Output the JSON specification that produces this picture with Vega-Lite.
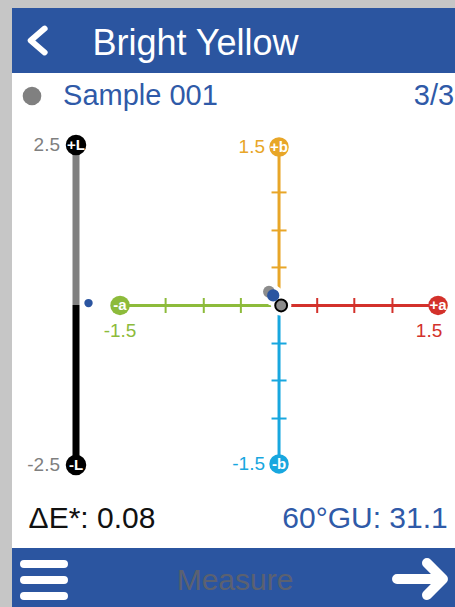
{
  "$schema": "https://vega.github.io/schema/vega-lite/v6.json",
  "background": "#c6c6c6",
  "padding": {"left": 12, "top": 8, "right": 0, "bottom": 0},
  "spacing": 0,
  "resolve": {"scale": {"color": "independent"}},
  "config": {
    "font": "Liberation Sans",
    "view": {"stroke": null},
    "concat": {"spacing": 0},
    "point": {"opacity": 1},
    "text": {"font": "Liberation Sans"}
  },
  "datasets": {
    "lEnds": [
      {"series": "L", "L": 2.5, "sym": "+L", "value": "2.5"},
      {"series": "L", "L": -2.5, "sym": "-L", "value": "-2.5"}
    ],
    "abAxes": [
      {"half": "+a", "a": 0, "b": 0, "a2": 1.5, "b2": 0},
      {"half": "-a", "a": 0, "b": 0, "a2": -1.5, "b2": 0},
      {"half": "+b", "a": 0, "b": 0, "a2": 0, "b2": 1.5},
      {"half": "-b", "a": 0, "b": 0, "a2": 0, "b2": -1.5}
    ],
    "abTicks": [
      {"half": "+a", "a": 0.36, "b": 0}, {"half": "+a", "a": 0.71, "b": 0}, {"half": "+a", "a": 1.07, "b": 0},
      {"half": "-a", "a": -0.36, "b": 0}, {"half": "-a", "a": -0.71, "b": 0}, {"half": "-a", "a": -1.07, "b": 0},
      {"half": "+b", "a": 0, "b": 0.36}, {"half": "+b", "a": 0, "b": 0.71}, {"half": "+b", "a": 0, "b": 1.07},
      {"half": "-b", "a": 0, "b": -0.36}, {"half": "-b", "a": 0, "b": -0.71}, {"half": "-b", "a": 0, "b": -1.07}
    ],
    "abEnds": [
      {"half": "+a", "a": 1.5, "b": 0, "sym": "+a", "value": "1.5"},
      {"half": "-a", "a": -1.5, "b": 0, "sym": "-a", "value": "-1.5"},
      {"half": "+b", "a": 0, "b": 1.5, "sym": "+b", "value": "1.5"},
      {"half": "-b", "a": 0, "b": -1.5, "sym": "-b", "value": "-1.5"}
    ],
    "samples": [
      {"kind": "previous", "a": -0.095, "b": 0.13},
      {"kind": "standard", "a": 0.02, "b": 0},
      {"kind": "current", "a": -0.055, "b": 0.095}
    ]
  },
  "vconcat": [
    {
      "spacing": 0, "bounds": "flush",
      "hconcat": [
        {"width": 52, "height": 65, "view": {"fill": "#2b55a0"},
         "data": {"values": [{"icon": "back"}]},
         "mark": {"type": "point", "shape": "M0.5,-0.9L-0.55,0L0.5,0.9", "filled": false, "stroke": "#ffffff", "strokeWidth": 6, "strokeCap": "round", "strokeJoin": "round", "size": 700, "opacity": 1},
         "encoding": {}},
        {"width": 263, "height": 65, "view": {"fill": "#2b55a0"},
         "data": {"values": [{"name": "Bright Yellow"}]},
         "mark": {"type": "text", "fontSize": 36, "color": "#ffffff", "dy": 3},
         "encoding": {"text": {"field": "name"}}},
        {"width": 128, "height": 65, "view": {"fill": "#2b55a0"},
         "data": {"values": []}, "mark": "point", "encoding": {}}
      ]
    },
    {
      "spacing": 0, "bounds": "flush",
      "hconcat": [
        {"width": 40, "height": 46, "view": {"fill": "#ffffff"},
         "data": {"values": [{"sample": "Sample 001"}]},
         "mark": {"type": "point", "filled": true, "color": "#808080", "size": 346, "opacity": 1},
         "encoding": {}},
        {"width": 177, "height": 46, "view": {"fill": "#ffffff"},
         "data": {"values": [{"sample": "Sample 001"}]},
         "mark": {"type": "text", "fontSize": 29, "color": "#2f5aa8"},
         "encoding": {"text": {"field": "sample"}}},
        {"width": 184, "height": 46, "view": {"fill": "#ffffff"},
         "data": {"values": []}, "mark": "point", "encoding": {}},
        {"width": 42, "height": 46, "view": {"fill": "#ffffff"},
         "data": {"values": [{"page": "3/3"}]},
         "mark": {"type": "text", "fontSize": 29, "color": "#2f5aa8"},
         "encoding": {"text": {"field": "page"}}}
      ]
    },
    {
      "spacing": 0, "bounds": "flush",
      "resolve": {"scale": {"color": "independent"}},
      "hconcat": [
        {"width": 88, "height": 370, "view": {"fill": "#ffffff"},
         "encoding": {
           "x": {"field": "series", "type": "nominal", "scale": {"type": "point", "domain": ["L", "ΔL"], "range": [64, 76.5], "padding": 0}, "axis": null},
           "y": {"field": "L", "type": "quantitative", "scale": {"domain": [-2.875, 2.906], "nice": false, "zero": false}, "axis": null}
         },
         "layer": [
           {"data": {"values": [{"side": "lighter", "series": "L", "L": 0, "L2": 2.5}, {"side": "darker", "series": "L", "L": 0, "L2": -2.5}]},
            "mark": {"type": "rule", "strokeWidth": 7},
            "encoding": {"y2": {"field": "L2"}, "color": {"field": "side", "type": "nominal", "scale": {"domain": ["lighter", "darker"], "range": ["#808080", "#000000"]}, "legend": null}}},
           {"data": {"name": "lEnds"}, "mark": {"type": "point", "filled": true, "color": "#000000", "size": 420, "opacity": 1}},
           {"data": {"name": "lEnds"}, "mark": {"type": "text", "color": "#ffffff", "fontSize": 15, "fontWeight": "bold"}, "encoding": {"text": {"field": "sym"}}},
           {"data": {"name": "lEnds"}, "mark": {"type": "text", "color": "#7f7f7f", "fontSize": 19, "align": "right", "dx": -16}, "encoding": {"text": {"field": "value"}}},
           {"data": {"values": [{"series": "ΔL", "L": 0.03}]}, "mark": {"type": "point", "filled": true, "color": "#2b55a0", "size": 70, "opacity": 1}}
         ]},
        {"width": 355, "height": 370, "view": {"fill": "#ffffff"},
         "encoding": {
           "x": {"field": "a", "type": "quantitative", "scale": {"domain": [-1.689, 1.66], "nice": false, "zero": false}, "axis": null},
           "y": {"field": "b", "type": "quantitative", "scale": {"domain": [-1.737, 1.765], "nice": false, "zero": false}, "axis": null}
         },
         "layer": [
           {"data": {"name": "abAxes"}, "mark": {"type": "rule", "strokeWidth": 3},
            "encoding": {"x2": {"field": "a2"}, "y2": {"field": "b2"},
              "color": {"field": "half", "type": "nominal", "scale": {"domain": ["+a", "-a", "+b", "-b"], "range": ["#d3312b", "#8dbb3b", "#e8a628", "#18a7df"]}, "legend": null}}},
           {"data": {"name": "abTicks"}, "transform": [{"filter": "datum.half === '+a' || datum.half === '-a'"}],
            "mark": {"type": "tick", "orient": "vertical", "size": 15, "thickness": 2, "opacity": 1},
            "encoding": {"color": {"field": "half", "type": "nominal", "scale": {"domain": ["+a", "-a", "+b", "-b"], "range": ["#d3312b", "#8dbb3b", "#e8a628", "#18a7df"]}, "legend": null}}},
           {"data": {"name": "abTicks"}, "transform": [{"filter": "datum.half === '+b' || datum.half === '-b'"}],
            "mark": {"type": "tick", "orient": "horizontal", "size": 15, "thickness": 2, "opacity": 1},
            "encoding": {"color": {"field": "half", "type": "nominal", "scale": {"domain": ["+a", "-a", "+b", "-b"], "range": ["#d3312b", "#8dbb3b", "#e8a628", "#18a7df"]}, "legend": null}}},
           {"data": {"name": "samples"}, "transform": [{"filter": "datum.kind !== 'previous'"}],
            "mark": {"type": "point", "filled": true, "color": "#ffffff", "size": 420, "opacity": 1}},
           {"data": {"name": "abEnds"}, "mark": {"type": "point", "filled": true, "size": 380, "opacity": 1},
            "encoding": {"color": {"field": "half", "type": "nominal", "scale": {"domain": ["+a", "-a", "+b", "-b"], "range": ["#d3312b", "#8dbb3b", "#e8a628", "#18a7df"]}, "legend": null}}},
           {"data": {"name": "abEnds"}, "mark": {"type": "text", "color": "#ffffff", "fontSize": 15, "fontWeight": "bold"},
            "encoding": {"text": {"field": "sym"}}},
           {"data": {"name": "abEnds"}, "transform": [{"filter": "datum.half === '+b' || datum.half === '-b'"}],
            "mark": {"type": "text", "fontSize": 19, "align": "right", "dx": -14},
            "encoding": {"text": {"field": "value"}, "color": {"field": "half", "type": "nominal", "scale": {"domain": ["+a", "-a", "+b", "-b"], "range": ["#d3312b", "#8dbb3b", "#e8a628", "#18a7df"]}, "legend": null}}},
           {"data": {"name": "abEnds"}, "transform": [{"filter": "datum.half === '-a'"}],
            "mark": {"type": "text", "fontSize": 19, "align": "center", "baseline": "alphabetic", "dy": 32},
            "encoding": {"text": {"field": "value"}, "color": {"field": "half", "type": "nominal", "scale": {"domain": ["+a", "-a", "+b", "-b"], "range": ["#d3312b", "#8dbb3b", "#e8a628", "#18a7df"]}, "legend": null}}},
           {"data": {"name": "abEnds"}, "transform": [{"filter": "datum.half === '+a'"}],
            "mark": {"type": "text", "fontSize": 19, "align": "center", "baseline": "alphabetic", "dx": -9, "dy": 32},
            "encoding": {"text": {"field": "value"}, "color": {"field": "half", "type": "nominal", "scale": {"domain": ["+a", "-a", "+b", "-b"], "range": ["#d3312b", "#8dbb3b", "#e8a628", "#18a7df"]}, "legend": null}}},
           {"data": {"name": "samples"}, "transform": [{"filter": "datum.kind === 'standard'"}],
            "mark": {"type": "point", "filled": true, "color": "#8c8c8c", "stroke": "#000000", "strokeWidth": 2, "size": 140, "opacity": 1}},
           {"data": {"name": "samples"}, "transform": [{"filter": "datum.kind === 'previous'"}],
            "mark": {"type": "point", "filled": true, "color": "#8c8c8c", "size": 140, "opacity": 1}},
           {"data": {"name": "samples"}, "transform": [{"filter": "datum.kind === 'current'"}],
            "mark": {"type": "point", "filled": true, "color": "#2b55a0", "size": 150, "opacity": 1}}
         ]}
      ]
    },
    {
      "spacing": 0, "bounds": "flush",
      "hconcat": [
        {"width": 160, "height": 59, "view": {"fill": "#ffffff"},
         "data": {"values": [{"metric": "ΔE*: 0.08"}]},
         "mark": {"type": "text", "fontSize": 30, "color": "#111111"},
         "encoding": {"text": {"field": "metric"}}},
        {"width": 103, "height": 59, "view": {"fill": "#ffffff"},
         "data": {"values": []}, "mark": "point", "encoding": {}},
        {"width": 180, "height": 59, "view": {"fill": "#ffffff"},
         "data": {"values": [{"metric": "60°GU: 31.1"}]},
         "mark": {"type": "text", "fontSize": 30, "color": "#2f5aa8"},
         "encoding": {"text": {"field": "metric"}}}
      ]
    },
    {
      "spacing": 0, "bounds": "flush",
      "hconcat": [
        {"width": 64, "height": 59, "view": {"fill": "#2b55a0"},
         "data": {"values": [{"icon": "menu"}]},
         "mark": {"type": "point", "shape": "M-1,-0.675L1,-0.675M-1,0.125L1,0.125M-1,0.925L1,0.925", "filled": false, "stroke": "#ffffff", "strokeWidth": 8, "strokeCap": "round", "strokeJoin": "round", "size": 1600, "opacity": 1},
         "encoding": {}},
        {"width": 9, "height": 59, "view": {"fill": "#2b55a0"},
         "data": {"values": []}, "mark": "point", "encoding": {}},
        {"width": 300, "height": 59, "view": {"fill": "#2b55a0"},
         "data": {"values": [{"action": "Measure"}]},
         "mark": {"type": "text", "fontSize": 30, "color": "#5b6170", "dy": 3},
         "encoding": {"text": {"field": "action"}}},
        {"width": 70, "height": 59, "view": {"fill": "#2b55a0"},
         "data": {"values": [{"icon": "next"}]},
         "mark": {"type": "point", "shape": "M-0.82,0.054L0.75,0.054M0.25,-0.52L0.82,0.054L0.25,0.628", "filled": false, "stroke": "#ffffff", "strokeWidth": 10, "strokeCap": "round", "strokeJoin": "round", "size": 3136, "opacity": 1},
         "encoding": {}}
      ]
    }
  ]
}
